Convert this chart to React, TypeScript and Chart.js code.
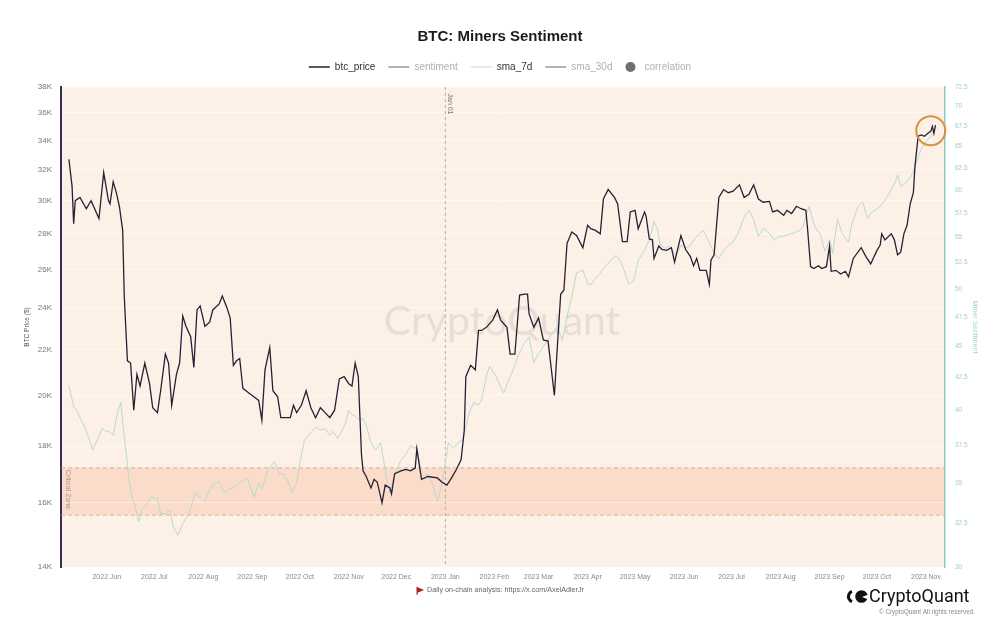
import React, { useEffect, useRef } from "react";
import { Chart, registerables } from "chart.js";

Chart.register(...registerables);

const FONT = '"Liberation Sans", Arial, Helvetica, sans-serif';

const chartTitle = "BTC: Miners Sentiment";
const START_DATE = "2022-05-03";
const END_DATE = "2023-11-13";

const xTickDates = [
  "2022-06-01", "2022-07-01", "2022-08-01", "2022-09-01", "2022-10-01", "2022-11-01",
  "2022-12-01", "2023-01-01", "2023-02-01", "2023-03-01", "2023-04-01", "2023-05-01",
  "2023-06-01", "2023-07-01", "2023-08-01", "2023-09-01", "2023-10-01", "2023-11-01",
];
const xTickLabels = [
  "2022 Jun", "2022 Jul", "2022 Aug", "2022 Sep", "2022 Oct", "2022 Nov",
  "2022 Dec", "2023 Jan", "2023 Feb", "2023 Mar", "2023 Apr", "2023 May",
  "2023 Jun", "2023 Jul", "2023 Aug", "2023 Sep", "2023 Oct", "2023 Nov",
];

const priceTicks = [14000, 16000, 18000, 20000, 22000, 24000, 26000, 28000, 30000, 32000, 34000, 36000, 38000];
const sentimentTicks = [30, 32.5, 35, 37.5, 40, 42.5, 45, 47.5, 50, 52.5, 55, 57.5, 60, 62.5, 65, 67.5, 70, 72.5];

const priceDates = [
  "2022-05-08", "2022-05-10", "2022-05-11", "2022-05-12", "2022-05-15", "2022-05-19", "2022-05-22", "2022-05-27",
  "2022-05-30", "2022-06-02", "2022-06-03", "2022-06-05", "2022-06-07", "2022-06-09", "2022-06-11", "2022-06-12",
  "2022-06-14", "2022-06-16", "2022-06-18", "2022-06-20", "2022-06-22", "2022-06-25", "2022-06-28", "2022-06-30",
  "2022-07-03", "2022-07-05", "2022-07-08", "2022-07-10", "2022-07-12", "2022-07-15", "2022-07-17", "2022-07-19",
  "2022-07-21", "2022-07-24", "2022-07-26", "2022-07-28", "2022-07-30", "2022-08-02", "2022-08-05", "2022-08-07",
  "2022-08-11", "2022-08-13", "2022-08-16", "2022-08-18", "2022-08-20", "2022-08-22", "2022-08-24", "2022-08-26",
  "2022-08-30", "2022-09-02", "2022-09-05", "2022-09-07", "2022-09-09", "2022-09-12", "2022-09-14", "2022-09-17",
  "2022-09-19", "2022-09-22", "2022-09-25", "2022-09-27", "2022-09-29", "2022-10-02", "2022-10-05", "2022-10-08",
  "2022-10-11", "2022-10-14", "2022-10-17", "2022-10-20", "2022-10-23", "2022-10-26", "2022-10-29", "2022-11-01",
  "2022-11-03", "2022-11-05", "2022-11-07", "2022-11-09", "2022-11-10", "2022-11-12", "2022-11-15", "2022-11-17",
  "2022-11-19", "2022-11-22", "2022-11-24", "2022-11-27", "2022-11-28", "2022-11-30", "2022-12-04", "2022-12-07",
  "2022-12-10", "2022-12-13", "2022-12-14", "2022-12-17", "2022-12-21", "2022-12-27", "2022-12-30", "2023-01-02",
  "2023-01-05", "2023-01-08", "2023-01-11", "2023-01-13", "2023-01-14", "2023-01-17", "2023-01-20", "2023-01-22",
  "2023-01-24", "2023-01-27", "2023-01-31", "2023-02-03", "2023-02-05", "2023-02-09", "2023-02-11", "2023-02-14",
  "2023-02-17", "2023-02-20", "2023-02-22", "2023-02-23", "2023-02-26", "2023-03-01", "2023-03-04", "2023-03-07",
  "2023-03-11", "2023-03-13", "2023-03-15", "2023-03-17", "2023-03-19", "2023-03-22", "2023-03-25", "2023-03-29",
  "2023-04-01", "2023-04-03", "2023-04-06", "2023-04-09", "2023-04-11", "2023-04-14", "2023-04-18", "2023-04-20",
  "2023-04-23", "2023-04-26", "2023-04-28", "2023-05-01", "2023-05-03", "2023-05-07", "2023-05-08", "2023-05-10",
  "2023-05-12", "2023-05-13", "2023-05-16", "2023-05-18", "2023-05-21", "2023-05-24", "2023-05-26", "2023-05-30",
  "2023-06-02", "2023-06-05", "2023-06-07", "2023-06-09", "2023-06-11", "2023-06-15", "2023-06-17", "2023-06-18",
  "2023-06-20", "2023-06-23", "2023-06-26", "2023-06-29", "2023-07-02", "2023-07-06", "2023-07-09", "2023-07-12",
  "2023-07-15", "2023-07-18", "2023-07-21", "2023-07-25", "2023-07-27", "2023-07-30", "2023-08-03", "2023-08-05",
  "2023-08-08", "2023-08-11", "2023-08-14", "2023-08-17", "2023-08-18", "2023-08-20", "2023-08-22", "2023-08-25",
  "2023-08-27", "2023-08-30", "2023-09-01", "2023-09-02", "2023-09-05", "2023-09-08", "2023-09-11", "2023-09-13",
  "2023-09-16", "2023-09-21", "2023-09-24", "2023-09-27", "2023-10-01", "2023-10-03", "2023-10-04", "2023-10-06",
  "2023-10-10", "2023-10-12", "2023-10-14", "2023-10-16", "2023-10-18", "2023-10-20", "2023-10-22", "2023-10-24",
  "2023-10-25", "2023-10-27", "2023-10-29", "2023-10-31", "2023-11-02", "2023-11-04", "2023-11-05", "2023-11-06",
  "2023-11-07",
];
const priceValues = [
  32700, 30900, 28600, 30000, 30200, 29500, 30000, 28900,
  31800, 30000, 29800, 31200, 30500, 29600, 28200, 24600,
  21500, 21400, 19400, 20900, 20400, 21400, 20500, 19500,
  19300, 20200, 21800, 21400, 19600, 20900, 21400, 23600,
  23100, 22600, 21200, 23900, 24100, 23100, 23300, 23900,
  24200, 24600, 24000, 23500, 21300, 21500, 21600, 20300,
  20100, 19950, 19800, 19000, 21100, 22100, 20200, 19950,
  19100, 19100, 19100, 19600, 19300, 19600, 20200, 19500,
  19100, 19500, 19300, 19100, 19400, 20700, 20800, 20500,
  20400, 21400, 20800, 17700, 17100, 16900, 16500, 16800,
  16700, 16000, 16600, 16500, 16300, 17000, 17100, 17150,
  17100, 17200, 17900, 16800, 16900, 16850, 16700, 16600,
  16850, 17150, 17500, 18600, 20800, 21300, 21100, 22900,
  22900, 23050, 23400, 23900, 23400, 23050, 21800, 21800,
  24650, 24700, 24700, 23700, 23050, 23500, 22450, 22400,
  20000, 22300, 24700, 24900, 27450, 28100, 27900, 27200,
  28500, 28300, 28200, 28000, 30100, 30700, 30200, 29800,
  27550, 27550, 29300, 29400, 28300, 29300, 29050, 27700,
  27650, 26600, 27300, 27100, 27050, 27200, 26400, 27900,
  27100, 26700, 26200, 26600, 25950, 25950, 25200, 26500,
  26800, 30200, 30700, 30500, 30600, 31000, 30200, 30400,
  31000, 30100, 29900, 29950, 29300, 29400, 29100, 29400,
  29200, 29650, 29500, 29400, 28400, 26150, 26050, 26200,
  26050, 26150, 27300, 25900, 25950, 25750, 25900, 25600,
  26600, 27200, 26700, 26300, 27050, 27350, 28000, 27650,
  28000, 27650, 26800, 26950, 28000, 28500, 29800, 30500,
  32200, 34300, 34400, 34300, 34500, 34650, 35000, 34500,
  35100,
];

const sentimentDates = [
  "2022-05-08", "2022-05-11", "2022-05-13", "2022-05-15", "2022-05-18", "2022-05-21", "2022-05-23", "2022-05-26",
  "2022-05-29", "2022-05-31", "2022-06-02", "2022-06-05", "2022-06-08", "2022-06-10", "2022-06-11", "2022-06-13",
  "2022-06-15", "2022-06-17", "2022-06-19", "2022-06-21", "2022-06-23", "2022-06-26", "2022-06-29", "2022-07-03",
  "2022-07-05", "2022-07-08", "2022-07-11", "2022-07-13", "2022-07-16", "2022-07-19", "2022-07-23", "2022-07-27",
  "2022-07-30", "2022-08-02", "2022-08-05", "2022-08-08", "2022-08-11", "2022-08-14", "2022-08-17", "2022-08-20",
  "2022-08-23", "2022-08-29", "2022-09-02", "2022-09-05", "2022-09-07", "2022-09-11", "2022-09-15", "2022-09-18",
  "2022-09-21", "2022-09-24", "2022-09-26", "2022-09-29", "2022-10-01", "2022-10-04", "2022-10-08", "2022-10-11",
  "2022-10-14", "2022-10-17", "2022-10-20", "2022-10-22", "2022-10-25", "2022-10-28", "2022-10-30", "2022-11-01",
  "2022-11-03", "2022-11-06", "2022-11-08", "2022-11-10", "2022-11-12", "2022-11-15", "2022-11-18", "2022-11-21",
  "2022-11-23", "2022-11-25", "2022-11-27", "2022-11-30", "2022-12-04", "2022-12-07", "2022-12-10", "2022-12-13",
  "2022-12-14", "2022-12-17", "2022-12-20", "2022-12-24", "2022-12-27", "2022-12-30", "2023-01-01", "2023-01-03",
  "2023-01-06", "2023-01-09", "2023-01-12", "2023-01-14", "2023-01-16", "2023-01-19", "2023-01-22", "2023-01-24",
  "2023-01-27", "2023-01-29", "2023-02-02", "2023-02-05", "2023-02-07", "2023-02-10", "2023-02-13", "2023-02-16",
  "2023-02-20", "2023-02-23", "2023-02-26", "2023-03-01", "2023-03-04", "2023-03-08", "2023-03-13", "2023-03-16",
  "2023-03-19", "2023-03-22", "2023-03-25", "2023-03-29", "2023-04-01", "2023-04-03", "2023-04-06", "2023-04-09",
  "2023-04-12", "2023-04-15", "2023-04-19", "2023-04-22", "2023-04-24", "2023-04-27", "2023-04-30", "2023-05-03",
  "2023-05-07", "2023-05-10", "2023-05-13", "2023-05-15", "2023-05-17", "2023-05-20", "2023-05-23", "2023-05-27",
  "2023-05-30", "2023-06-02", "2023-06-05", "2023-06-08", "2023-06-11", "2023-06-13", "2023-06-17", "2023-06-20",
  "2023-06-23", "2023-06-26", "2023-06-29", "2023-07-02", "2023-07-06", "2023-07-09", "2023-07-12", "2023-07-15",
  "2023-07-18", "2023-07-21", "2023-07-25", "2023-07-28", "2023-07-31", "2023-08-03", "2023-08-06", "2023-08-09",
  "2023-08-13", "2023-08-15", "2023-08-17", "2023-08-19", "2023-08-22", "2023-08-24", "2023-08-26", "2023-08-29",
  "2023-09-01", "2023-09-03", "2023-09-06", "2023-09-09", "2023-09-13", "2023-09-15", "2023-09-19", "2023-09-22",
  "2023-09-25", "2023-09-27", "2023-09-30", "2023-10-03", "2023-10-07", "2023-10-10", "2023-10-13", "2023-10-14",
  "2023-10-16", "2023-10-18", "2023-10-21", "2023-10-23", "2023-10-25", "2023-10-28", "2023-10-31", "2023-11-02",
  "2023-11-04", "2023-11-06",
];
const sentimentValues = [
  41.9, 40.3, 40.0, 39.5, 38.8, 37.9, 37.2, 37.9,
  38.7, 38.5, 38.5, 38.2, 40.0, 40.6, 39.1, 37.2,
  35.2, 34.1, 33.5, 32.6, 33.3, 33.6, 34.1, 34.0,
  33.1, 33.1, 33.3, 32.3, 31.8, 32.5, 33.1, 34.4,
  34.1, 33.8, 34.6, 35.0, 35.1, 34.4, 34.6, 34.7,
  35.0, 35.3, 34.1, 35.0, 34.6, 35.9, 36.4, 35.6,
  35.6, 35.0, 34.4, 35.0, 36.3, 37.9, 38.4, 38.8,
  38.6, 38.7, 38.2, 38.5, 38.0, 38.6, 39.1, 40.0,
  39.7, 39.5, 39.3, 39.4, 38.9, 37.7, 37.2, 37.7,
  36.5, 35.2, 34.4, 35.6, 36.5, 36.9, 37.5, 37.3,
  37.5, 35.4, 35.6, 35.0, 33.8, 35.0, 36.3, 37.7,
  37.3, 37.7, 37.9, 38.8, 39.8, 40.6, 40.4, 40.8,
  42.6, 43.4, 42.6, 41.8, 41.3, 42.3, 43.1, 44.2,
  45.3, 45.8, 43.7, 44.4, 45.0, 45.8, 46.7, 45.5,
  47.5, 49.3, 51.5, 51.8, 50.5, 50.4, 51.0, 51.5,
  52.1, 52.6, 53.2, 52.6, 51.8, 50.5, 50.7, 52.7,
  53.7, 54.7, 56.6, 55.9, 54.2, 53.9, 54.1, 53.2,
  54.2, 53.9, 54.2, 54.9, 55.4, 55.7, 54.5, 53.4,
  52.9, 53.7, 54.2, 54.5, 55.7, 57.1, 57.8, 56.8,
  55.1, 55.9, 55.4, 54.7, 55.1, 55.1, 55.3, 55.4,
  55.7, 56.0, 57.1, 58.2, 56.4, 55.7, 55.4, 53.6,
  54.7, 53.4, 56.9, 55.4, 54.5, 56.3, 58.2, 58.7,
  56.9, 57.5, 57.8, 58.2, 59.1, 60.0, 61.1, 61.7,
  60.4, 60.6, 61.1, 61.7, 62.6, 64.2, 65.4, 65.8,
  66.2, 66.8,
];

const criticalZone = [33, 36];
const criticalZoneLabel = "Critical Zone";
const markerDate = "2023-01-01";
const markerLabel = "Jan 01";
const highlightDate = "2023-11-04";
const highlightValue = 34700;
const footnoteText = "Daily on-chain analysis: https://x.com/AxelAdlerJr";
const brandText = "CryptoQuant";
const copyrightText = "© CryptoQuant All rights reserved.";

const DAY_MS = 86400000;
const dayOf = (s: string) => (Date.parse(s) - Date.parse(START_DATE)) / DAY_MS;

const backgroundPlugin = {
  id: "bgPlugin",
  beforeDraw(chart: any) {
    const { ctx, chartArea: a, scales } = chart;
    ctx.save();
    ctx.fillStyle = "#ffffff";
    ctx.fillRect(0, 0, chart.width, chart.height);
    ctx.fillStyle = "#fdf1e7";
    ctx.fillRect(a.left, a.top, a.right - a.left, a.bottom - a.top);
    const yTop = scales.y1.getPixelForValue(criticalZone[1]);
    const yBot = scales.y1.getPixelForValue(criticalZone[0]);
    ctx.fillStyle = "#fbdccb";
    ctx.fillRect(a.left, yTop, a.right - a.left, yBot - yTop);
    ctx.restore();
  },
  beforeDatasetsDraw(chart: any) {
    const { ctx, chartArea: a, scales } = chart;
    ctx.save();
    ctx.font = `41px Lato, ${FONT}`;
    ctx.fillStyle = "rgba(140,140,140,0.18)";
    ctx.textAlign = "center";
    ctx.textBaseline = "middle";
    ctx.fillText(brandText, 502, 322);
    const yTop = scales.y1.getPixelForValue(criticalZone[1]);
    const yBot = scales.y1.getPixelForValue(criticalZone[0]);
    ctx.strokeStyle = "#c9a595";
    ctx.lineWidth = 0.8;
    ctx.setLineDash([4, 3]);
    ctx.beginPath();
    ctx.moveTo(a.left, yTop);
    ctx.lineTo(a.right, yTop);
    ctx.moveTo(a.left, yBot);
    ctx.lineTo(a.right, yBot);
    ctx.stroke();
    const mx = scales.x.getPixelForValue(dayOf(markerDate));
    ctx.strokeStyle = "#a09a96";
    ctx.setLineDash([3, 3]);
    ctx.beginPath();
    ctx.moveTo(mx, a.top);
    ctx.lineTo(mx, a.bottom);
    ctx.stroke();
    ctx.setLineDash([]);
    ctx.fillStyle = "#777";
    ctx.font = `7px ${FONT}`;
    ctx.save();
    ctx.translate(mx + 5, a.top + 17);
    ctx.rotate(Math.PI / 2);
    ctx.textAlign = "center";
    ctx.textBaseline = "middle";
    ctx.fillText(markerLabel, 0, 0);
    ctx.restore();
    ctx.save();
    ctx.fillStyle = "#a39790";
    ctx.translate(a.left + 7, (yTop + yBot) / 2 - 2);
    ctx.rotate(Math.PI / 2);
    ctx.textAlign = "center";
    ctx.textBaseline = "middle";
    ctx.fillText(criticalZoneLabel, 0, 0);
    ctx.restore();
    ctx.restore();
  },
  afterDraw(chart: any) {
    const { ctx, scales } = chart;
    ctx.save();
    const hx = scales.x.getPixelForValue(dayOf(highlightDate));
    const hy = scales.y.getPixelForValue(highlightValue);
    ctx.strokeStyle = "#d8913c";
    ctx.lineWidth = 2;
    ctx.beginPath();
    ctx.arc(hx, hy, 14.5, 0, Math.PI * 2);
    ctx.stroke();

    const datasets = chart.data.datasets;
    ctx.font = `10px ${FONT}`;
    ctx.textBaseline = "middle";
    ctx.textAlign = "left";
    const items = datasets.map((ds: any) => {
      const circle = ds.pointStyle === "circle";
      const mw = circle ? 10 : 21;
      const gap = circle ? 9 : 5;
      const tw = ctx.measureText(ds.label).width;
      return { ds, circle, mw, gap, tw, w: mw + gap + tw };
    });
    const itemGap = 13;
    const total = items.reduce((s: number, it: any) => s + it.w, 0) + itemGap * (items.length - 1);
    let x = 500 - total / 2;
    const ly = 67;
    items.forEach((it: any) => {
      if (it.circle) {
        ctx.fillStyle = it.ds.legendColor || it.ds.borderColor;
        ctx.beginPath();
        ctx.arc(x + 5, ly, 5, 0, Math.PI * 2);
        ctx.fill();
      } else {
        ctx.strokeStyle = it.ds.legendColor || it.ds.borderColor;
        ctx.lineWidth = 1.5;
        ctx.beginPath();
        ctx.moveTo(x, ly);
        ctx.lineTo(x + it.mw, ly);
        ctx.stroke();
      }
      ctx.fillStyle = it.ds.hidden ? "#b0b0b0" : "#333333";
      ctx.fillText(it.ds.label, x + it.mw + it.gap, ly + 0.5);
      x += it.w + itemGap;
    });

    ctx.fillStyle = "#a8261f";
    ctx.beginPath();
    ctx.moveTo(417, 587);
    ctx.lineTo(424, 590);
    ctx.lineTo(417, 593);
    ctx.closePath();
    ctx.fill();
    ctx.fillRect(416.5, 587, 1, 8);
    ctx.fillStyle = "#666";
    ctx.font = `7.2px ${FONT}`;
    ctx.fillText(footnoteText, 427, 590.5);

    ctx.fillStyle = "#111";
    ctx.strokeStyle = "#111";
    ctx.lineWidth = 3.2;
    ctx.beginPath();
    ctx.arc(854, 596.5, 5.5, Math.PI * 0.62, Math.PI * 1.38);
    ctx.stroke();
    ctx.beginPath();
    ctx.arc(861.5, 596.5, 6.3, 0, Math.PI * 2);
    ctx.fill();
    ctx.fillStyle = "#ffffff";
    ctx.beginPath();
    ctx.moveTo(862, 597);
    ctx.lineTo(868.5, 594.5);
    ctx.lineTo(868.5, 599.5);
    ctx.closePath();
    ctx.fill();
    ctx.fillStyle = "#111";
    ctx.font = `18px Roboto, ${FONT}`;
    ctx.textAlign = "left";
    ctx.fillText(brandText, 869, 597);
    ctx.fillStyle = "#8a8a8a";
    ctx.font = `6.3px ${FONT}`;
    ctx.textAlign = "right";
    ctx.fillText(copyrightText, 975, 612.5);
    ctx.restore();
  },
};

export default function App() {
  const canvasRef = useRef<HTMLCanvasElement | null>(null);

  useEffect(() => {
    if (!canvasRef.current) return;
    const chart = new Chart(canvasRef.current, {
      type: "line",
      data: {
        datasets: [
          {
            label: "btc_price",
            data: priceDates.map((d, i) => ({ x: dayOf(d), y: priceValues[i] })),
            yAxisID: "y",
            borderColor: "#281f35",
            borderWidth: 1.3,
            pointRadius: 0,
            tension: 0,
          },
          {
            label: "sentiment",
            data: [],
            yAxisID: "y1",
            borderColor: "#9a9a9a",
            hidden: true,
            pointRadius: 0,
          },
          {
            label: "sma_7d",
            data: sentimentDates.map((d, i) => ({ x: dayOf(d), y: sentimentValues[i] })),
            yAxisID: "y1",
            borderColor: "#b9dacd",
            legendColor: "#d3e7df",
            borderWidth: 1,
            pointRadius: 0,
            tension: 0,
          },
          {
            label: "sma_30d",
            data: [],
            yAxisID: "y1",
            borderColor: "#9a9a9a",
            hidden: true,
            pointRadius: 0,
          },
          {
            label: "correlation",
            data: [],
            yAxisID: "y1",
            borderColor: "#6f6f6f",
            backgroundColor: "#6f6f6f",
            pointStyle: "circle",
            hidden: true,
            pointRadius: 0,
          },
        ] as any,
      },
      options: {
        responsive: false,
        animation: false,
        devicePixelRatio: 1,
        layout: { padding: { top: 0, left: 0, right: 0, bottom: 33 } },
        plugins: {
          legend: { display: false },
          tooltip: { enabled: false },
          title: {
            display: true,
            text: chartTitle,
            color: "#1a1a1a",
            font: { family: FONT, size: 15, weight: "bold" },
            padding: { top: 28, bottom: 41 },
          },
        },
        scales: {
          x: {
            type: "linear",
            min: 0,
            max: dayOf(END_DATE),
            afterBuildTicks: (s: any) => {
              s.ticks = xTickDates.map((d) => ({ value: dayOf(d) }));
            },
            afterFit: (s: any) => {
              s.height = 30;
            },
            ticks: {
              autoSkip: false,
              maxRotation: 0,
              minRotation: 0,
              padding: 6,
              color: "#8a8a8a",
              font: { family: FONT, size: 7 },
              callback: (_v: any, i: number) => xTickLabels[i],
            },
            grid: { display: false, drawTicks: false },
            border: { display: false },
          },
          y: {
            type: "logarithmic",
            position: "left",
            min: 14000,
            max: 38000,
            afterBuildTicks: (s: any) => {
              s.ticks = priceTicks.map((v) => ({ value: v }));
            },
            afterFit: (s: any) => {
              s.width = 61;
            },
            ticks: {
              padding: 9,
              color: "#777",
              font: { family: FONT, size: 8 },
              callback: (v: any) => `${Math.round(Number(v) / 1000)}K`,
            },
            grid: { color: "rgba(255,255,255,0.5)", lineWidth: 1, drawTicks: false },
            border: { color: "#3b2d55", width: 2 },
            title: {
              display: true,
              text: "BTC Price ($)",
              color: "#555",
              font: { family: FONT, size: 6.5 },
              padding: { top: 23, bottom: 0 },
            },
          },
          y1: {
            type: "logarithmic",
            position: "right",
            min: 30,
            max: 72.5,
            afterBuildTicks: (s: any) => {
              s.ticks = sentimentTicks.map((v) => ({ value: v }));
            },
            afterFit: (s: any) => {
              s.width = 55;
            },
            ticks: {
              padding: 10,
              color: "#9fcfc8",
              font: { family: FONT, size: 6.5 },
              callback: (v: any) => String(v),
            },
            grid: { display: false, drawTicks: false },
            border: { color: "#8fcbc3", width: 1.5 },
            title: {
              display: true,
              text: "Miner Sentiment",
              color: "#a6d6cf",
              font: { family: FONT, size: 7.3 },
              padding: { top: 20.6, bottom: 0 },
            },
          },
        },
      } as any,
      plugins: [backgroundPlugin],
    });
    return () => chart.destroy();
  }, []);

  return (
    <div style={{ position: "absolute", left: 0, top: 0, width: 1000, height: 630, background: "#fff" }}>
      <canvas ref={canvasRef} width={1000} height={630} style={{ display: "block" }} />
    </div>
  );
}
